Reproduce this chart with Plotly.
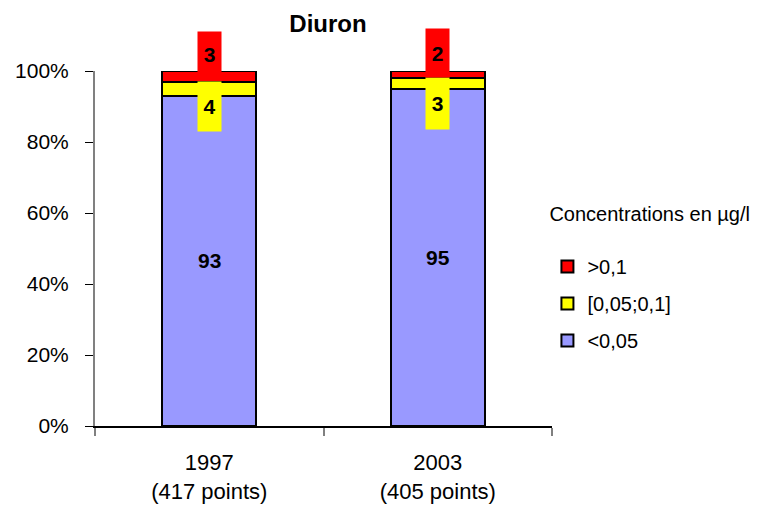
import plotly.graph_objects as go

# données
categories = ['1997<br>(417 points)', '2003<br>(405 points)']
low_vals = [93, 95]      # <0,05
mid_vals = [4, 3]        # [0,05;0,1]
high_vals = [3, 2]       # >0,1

COLORS = {'low': '#9999FF', 'mid': '#FFFF00', 'high': '#FF0000'}
FONT = 'Liberation Sans, Arial, sans-serif'

# placement des étiquettes décalées (coordonnées papier, hauteur de boîte)
mid_label_pos = [(0.900, 47), (0.9085, 49)]
high_label_pos = [(1.048, 42), (1.0507, 46)]

fig = go.Figure()
series = [
    ('<0,05', low_vals, COLORS['low']),
    ('[0,05;0,1]', mid_vals, COLORS['mid']),
    ('>0,1', high_vals, COLORS['high']),
]
for i, (name, vals, col) in enumerate(series):
    fig.add_trace(go.Bar(
        x=categories, y=vals, name=name,
        marker=dict(color=col, line=dict(color='black', width=2)),
        width=0.41, legendgroup=str(i), legendrank=10 - i,
    ))

# étiquettes
for i, cat in enumerate(categories):
    fig.add_annotation(x=cat, y=low_vals[i] / 2, text='<b>%d</b>' % low_vals[i],
                       showarrow=False, font=dict(size=21, color='black', family=FONT))
    y, h = mid_label_pos[i]
    fig.add_annotation(x=cat, y=y, yref='paper', xanchor='center', yanchor='middle',
                       text='<b>%d</b>' % mid_vals[i],
                       showarrow=False, bgcolor=COLORS['mid'], width=21, height=h,
                       font=dict(size=21, color='black', family=FONT))
    y, h = high_label_pos[i]
    fig.add_annotation(x=cat, y=y, yref='paper', xanchor='center', yanchor='middle',
                       text='<b>%d</b>' % high_vals[i],
                       showarrow=False, bgcolor=COLORS['high'], width=21, height=h,
                       font=dict(size=21, color='black', family=FONT))

fig.update_layout(
    width=759, height=498,
    barmode='stack',
    plot_bgcolor='white', paper_bgcolor='white',
    margin=dict(l=87, r=215, t=63, b=80, autoexpand=False),
    font=dict(family=FONT, size=20, color='black'),
    title=dict(text='<b>Diuron</b>', x=0.4216, xanchor='center', y=0.968, yanchor='middle',
               font=dict(size=24, family=FONT)),
    showlegend=True,
    legend=dict(
        title=dict(text='Concentrations en µg/l<br> ', font=dict(size=20)),
        traceorder='grouped', tracegroupgap=8,
        x=0.99, xanchor='left', y=0.651, yanchor='top',
        font=dict(size=20), bgcolor='rgba(0,0,0,0)',
    ),
)
fig.update_xaxes(
    showline=True, linecolor='black', linewidth=1.5,
    ticks='outside', tickson='boundaries', tickcolor='#808080', ticklen=8, tickwidth=2,
    range=[-0.5, 1.5], tickfont=dict(size=22), ticklabelstandoff=16, automargin=False,
)
fig.update_yaxes(
    range=[0, 100], dtick=20, ticksuffix='%',
    showline=True, linecolor='#808080', linewidth=2,
    ticks='outside', tickcolor='black', ticklen=8, tickwidth=1,
    showgrid=False, zeroline=False, tickfont=dict(size=21), ticklabelstandoff=12,
    automargin=False,
)

fig.write_html('out.html')
